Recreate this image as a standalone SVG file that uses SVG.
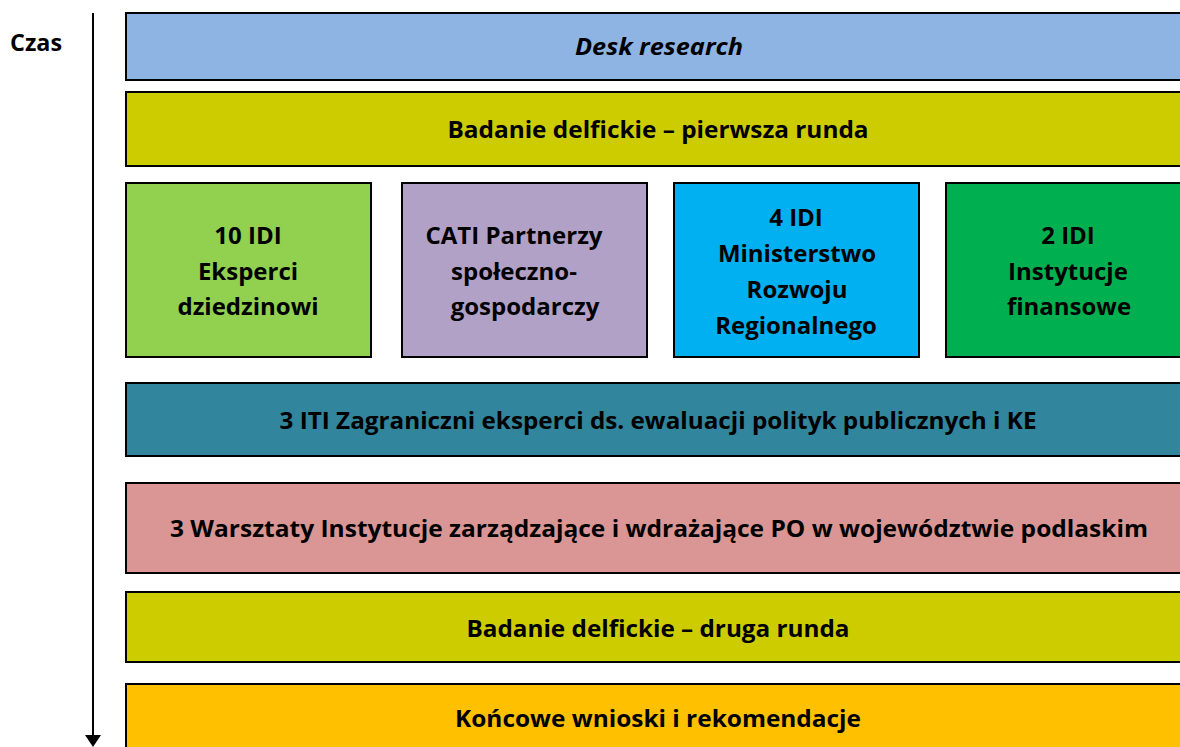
<svg xmlns="http://www.w3.org/2000/svg" width="1180" height="747" viewBox="0 0 1180 747">
<style>
.b{stroke:#000;stroke-width:2}
.t{font-family:"Open Sans","Liberation Sans",sans-serif;font-weight:bold;font-size:24px;fill:#000;text-anchor:middle}
</style>
<rect width="1180" height="747" fill="#fff"/>
<g id="axis">
<text class="t" x="36" y="51" textLength="52" lengthAdjust="spacingAndGlyphs">Czas</text>
<line x1="93" y1="13" x2="93" y2="736" stroke="#000" stroke-width="2"/>
<polygon points="85,735 101,735 93,747" fill="#000"/>
</g>
<g id="desk"><rect class="b" x="126" y="13" width="1070" height="67" fill="#8EB4E3"/><text class="t" x="659" y="55" font-style="italic" textLength="168" lengthAdjust="spacingAndGlyphs">Desk research</text></g>
<g id="delfi1"><rect class="b" x="126" y="92" width="1070" height="74" fill="#CCCC00"/><text class="t" x="658" y="138" textLength="421" lengthAdjust="spacingAndGlyphs">Badanie delfickie – pierwsza runda</text></g>
<g id="idi10"><rect class="b" x="126" y="183" width="245" height="174" fill="#92D050"/>
<text class="t" x="248" y="244">10 IDI</text><text class="t" x="248" y="280">Eksperci</text><text class="t" x="248" y="315">dziedzinowi</text></g>
<g id="cati"><rect class="b" x="402" y="183" width="245" height="174" fill="#B2A1C7"/>
<text class="t" x="514" y="244">CATI Partnerzy</text><text class="t" x="514" y="280">społeczno-</text><text class="t" x="525" y="315">gospodarczy</text></g>
<g id="idi4"><rect class="b" x="674" y="183" width="245" height="174" fill="#00B0F0"/>
<text class="t" x="796" y="226">4 IDI</text><text class="t" x="797" y="262">Ministerstwo</text><text class="t" x="797" y="298">Rozwoju</text><text class="t" x="796" y="334">Regionalnego</text></g>
<g id="idi2"><rect class="b" x="946" y="183" width="250" height="174" fill="#00B050"/>
<text class="t" x="1068" y="244">2 IDI</text><text class="t" x="1068" y="280">Instytucje</text><text class="t" x="1069" y="315">finansowe</text></g>
<g id="iti"><rect class="b" x="126" y="383" width="1070" height="73" fill="#31859C"/><text class="t" x="658" y="429" textLength="757" lengthAdjust="spacingAndGlyphs">3 ITI Zagraniczni eksperci ds. ewaluacji polityk publicznych i KE</text></g>
<g id="warsztaty"><rect class="b" x="126" y="483" width="1070" height="90" fill="#D99694"/><text class="t" x="659" y="537" textLength="978" lengthAdjust="spacingAndGlyphs">3 Warsztaty Instytucje zarządzające i wdrażające PO w województwie podlaskim</text></g>
<g id="delfi2"><rect class="b" x="126" y="592" width="1070" height="70" fill="#CCCC00"/><text class="t" x="658" y="637" textLength="383" lengthAdjust="spacingAndGlyphs">Badanie delfickie – druga runda</text></g>
<g id="wnioski"><rect class="b" x="126" y="684" width="1070" height="80" fill="#FFC000"/><text class="t" x="658" y="727" textLength="406" lengthAdjust="spacingAndGlyphs">Końcowe wnioski i rekomendacje</text></g>
<g id="connectors"></g>
</svg>
